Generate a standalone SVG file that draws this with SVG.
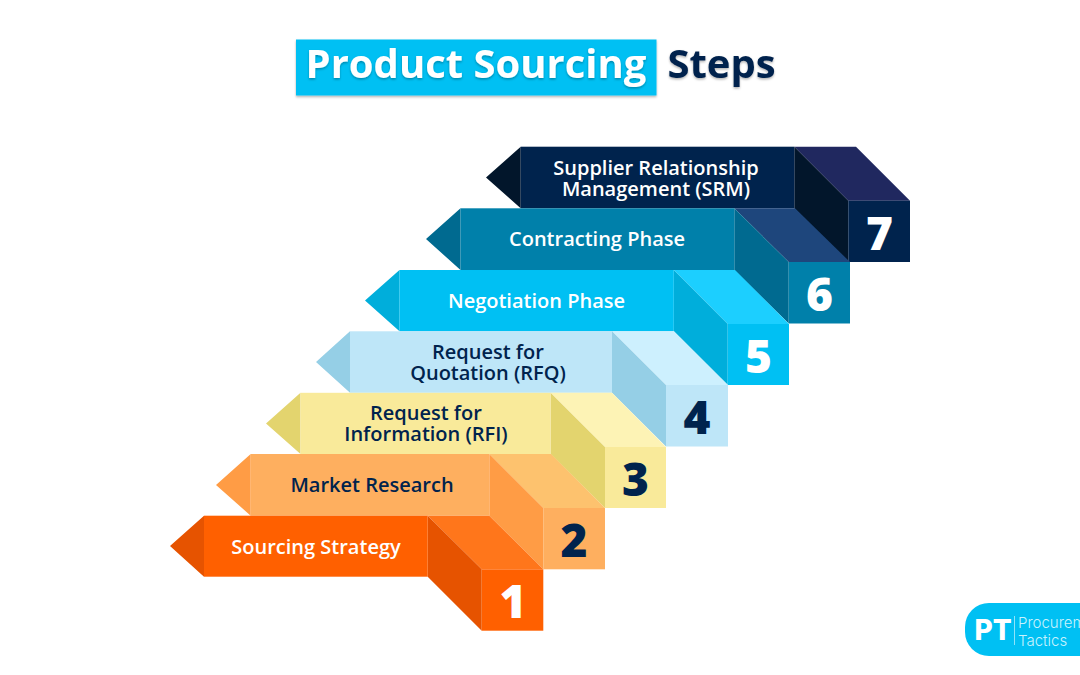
<svg xmlns="http://www.w3.org/2000/svg" width="1080" height="675" viewBox="0 0 1080 675">
<defs>
<filter id="sh" x="-5%" y="-10%" width="110%" height="125%"><feDropShadow dx="0" dy="1.5" stdDeviation="1.2" flood-color="#000" flood-opacity="0.3"/></filter>
</defs>
<style>
text{font-family:"Open Sans","Liberation Sans",sans-serif;text-anchor:middle}
.l{font-size:20px;font-weight:600}
.n{font-size:46px;font-weight:800}
.w{fill:#fff}
.d{fill:#00234d}
.t{font-size:40px;font-weight:700}
</style>
<rect width="1080" height="675" fill="#fff"/>
<g id="title">
<rect x="296" y="39.500" width="360.500" height="56" fill="#00c0f3" filter="url(#sh)"/>
<text class="t w" x="476" y="78" filter="url(#sh)">Product Sourcing</text>
<text class="t d" x="721.500" y="78" filter="url(#sh)">Steps</text>
</g>
<g id="step7">
<path fill="#20285f" d="M794.300 146.700H856L910 200.700H848.300Z"/>
<path fill="#02162b" d="M794.300 146.700V208.300L848.300 262V200.700ZM520.700 146.700V208.300L486 177.500Z"/>
<rect x="520.700" y="146.700" width="273.600" height="61.600" fill="#00234d"/>
<rect x="848.300" y="200.700" width="61.700" height="61.300" fill="#00234d"/>
<text class="l w" x="656" y="175">Supplier Relationship</text>
<text class="l w" x="656" y="196">Management (SRM)</text>
<text class="n w" x="879.500" y="249.500">7</text>
</g>
<g id="step6">
<path fill="#1e467c" d="M734.300 208.300H795L850 262H788.700Z"/>
<path fill="#006a90" d="M734.300 208.300V270L788.700 323.500V262ZM460.500 208.300V270L426 239Z"/>
<rect x="460.500" y="208.300" width="273.800" height="61.700" fill="#0080aa"/>
<rect x="788.700" y="262" width="61.300" height="61.500" fill="#0080aa"/>
<text class="l w" x="597" y="246">Contracting Phase</text>
<text class="n w" x="819.500" y="311">6</text>
</g>
<g id="step5">
<path fill="#1ccfff" d="M673.800 270H735L789 324H727.700Z"/>
<path fill="#00aedb" d="M673.800 270V331.300L727.700 385V324ZM399.500 270V331.300L365 300.500Z"/>
<rect x="399.500" y="270" width="274.300" height="61.300" fill="#00c0f3"/>
<rect x="727.700" y="324" width="61.300" height="61" fill="#00c0f3"/>
<text class="l w" x="536.500" y="308">Negotiation Phase</text>
<text class="n w" x="758.500" y="372.500">5</text>
</g>
<g id="step4">
<path fill="#cdf0fe" d="M612 331.300H674L728 385H666Z"/>
<path fill="#95cfe6" d="M612 331.300V392.800L666 446.500V385ZM350 331.300V392.800L316 362Z"/>
<rect x="350" y="331.300" width="262" height="61.500" fill="#bee6f8"/>
<rect x="666" y="385" width="62" height="61.500" fill="#bee6f8"/>
<text class="l d" x="488" y="359">Request for</text>
<text class="l d" x="488" y="380">Quotation (RFQ)</text>
<text class="n d" x="697" y="434">4</text>
</g>
<g id="step3">
<path fill="#fdf3b5" d="M550.500 392.800H612L666 447H605Z"/>
<path fill="#e3d46e" d="M550.500 392.800V454L605 508V447ZM300.500 392.800V454L266 423.500Z"/>
<rect x="300.500" y="392.800" width="250" height="61.200" fill="#f9ea9a"/>
<rect x="605" y="447" width="61" height="61" fill="#f9ea9a"/>
<text class="l d" x="426" y="420">Request for</text>
<text class="l d" x="426" y="441">Information (RFI)</text>
<text class="n d" x="635.500" y="495.500">3</text>
</g>
<g id="step2">
<path fill="#fdc26e" d="M489.300 454H551L605 508H543.300Z"/>
<path fill="#ff9c45" d="M489.300 454V515.700L543.300 569.300V508ZM250.700 454V515.700L216 485Z"/>
<rect x="250.700" y="454" width="238.600" height="61.700" fill="#feaf5f"/>
<rect x="543.300" y="508" width="61.700" height="61.300" fill="#feaf5f"/>
<text class="l d" x="372" y="492">Market Research</text>
<text class="n d" x="574" y="557">2</text>
</g>
<g id="step1">
<path fill="#ff761b" d="M427.700 515.700H489.300L543.300 569.300H481.700Z"/>
<path fill="#e65300" d="M427.700 515.700V576.700L481.700 630.700V569.300ZM204 515.700V576.700L170 546Z"/>
<rect x="204" y="515.700" width="223.700" height="61" fill="#ff6000"/>
<rect x="481.700" y="569.300" width="61.600" height="61.400" fill="#ff6000"/>
<text class="l w" x="316" y="554">Sourcing Strategy</text>
<text class="n w" x="513" y="618">1</text>
</g>
<g id="connectors"/>
<g id="logo">
<rect x="965" y="603" width="140" height="53" rx="24" fill="#00c0f3"/>
<text x="993" y="640" fill="#fff" style="font-family:Inter,'Liberation Sans',sans-serif;font-size:28px;font-weight:800">PT</text>
<line x1="1014.500" y1="616" x2="1014.500" y2="645" stroke="#8fe3fa" stroke-width="1"/>
<text x="1018" y="628" fill="#c8f2fd" style="text-anchor:start;font-family:Inter,'Liberation Sans',sans-serif;font-size:15px;font-weight:300">Procurement</text>
<text x="1018" y="646" fill="#c8f2fd" style="text-anchor:start;font-family:Inter,'Liberation Sans',sans-serif;font-size:15px;font-weight:300">Tactics</text>
</g>
</svg>
